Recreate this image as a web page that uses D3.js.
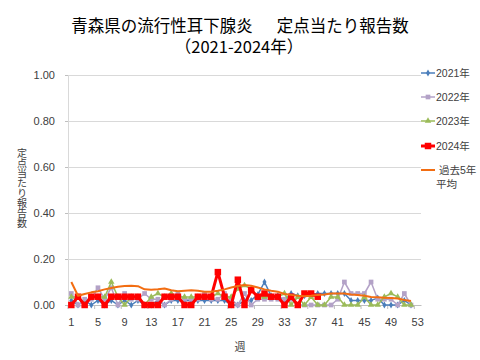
<!DOCTYPE html>
<html><head><meta charset="utf-8">
<script src="https://cdn.jsdelivr.net/npm/d3@7"></script>
<style>
html,body{margin:0;padding:0;background:#fff;}
svg{display:block;}
</style></head>
<body>
<svg id="chart" width="480" height="360"></svg>
<script>
const weeks = [1,2,3,4,5,6,7,8,9,10,11,12,13,14,15,16,17,18,19,20,21,22,23,24,25,26,27,28,29,30,31,32,33,34,35,36,37,38,39,40,41,42,43,44,45,46,47,48,49,50,51,52,53];
const tickWeeks = [1,5,9,13,17,21,25,29,33,37,41,45,49,53];
const yTicks = [0,0.2,0.4,0.6,0.8,1.0];

const s2021 = [0.02,0,0.02,0,0.02,0,0.02,0,0.02,0,0.02,0,0,0.02,0,0.02,0.02,0.02,0.02,0.02,0.02,0.02,0.02,0.02,0,0,0.02,0.02,0.045,0.10,0.04,0.04,0.02,0.05,0.04,0.04,0.045,0.05,0.05,0.05,0.05,0.05,0.02,0.02,0.02,0.02,0.03,0,0,0,0.02,0];
const s2022 = [0.05,0,0.025,0.025,0.075,0.025,0.075,0,0.05,0.025,0.025,0.05,0.025,0.025,0,0.025,0.05,0.025,0.025,0.025,0.05,0.025,0.025,0.05,0.025,0,0.05,0,0.025,0.025,0.025,0.025,0.025,0.025,0,0,0,0,0,0,0.025,0.10,0.05,0.05,0.05,0.10,0.025,0.025,0.025,0,0.05,0];
const s2023 = [0.035,0.035,0,0.035,0.035,0.035,0.10,0.035,0,0.035,0.035,0,0.035,0.05,0.035,0.05,0.035,0.035,0.035,0.035,0.035,0.035,0.05,0.035,0.035,0.07,0.085,0.07,0.035,0.035,0.035,0.035,0.05,0,0.035,0,0.035,0,0,0.035,0.035,0,0,0,0.035,0,0,0.035,0.05,0.035,0,0];
const s2024 = [0,0.036,0,0.036,0.036,0,0.036,0.036,0.036,0.036,0.036,0,0,0,0.036,0.036,0.036,0,0,0.036,0.036,0.036,0.143,0.036,0,0.11,0,0.065,0.036,0.05,0.036,0.036,0,0.036,0,0.05,0.05,0.036];
const sAvg = [0.10,0.04,0.048,0.055,0.06,0.068,0.074,0.079,0.083,0.084,0.082,0.068,0.066,0.068,0.072,0.064,0.060,0.062,0.064,0.062,0.058,0.058,0.062,0.068,0.076,0.083,0.087,0.084,0.076,0.068,0.062,0.058,0.048,0.044,0.040,0.038,0.040,0.044,0.046,0.050,0.050,0.050,0.046,0.043,0.040,0.035,0.034,0.032,0.030,0.028,0.022,0.017];

const seriesNames = ["2021年","2022年","2023年","2024年"];
const avgName = ["過去5年","平均"];

const svg = d3.select("#chart");
const L = 68, R = 421, T = 75, B = 305;
const x = d3.scaleBand().domain(weeks).range([L, R]).padding(0);
const cx = w => x(w) + x.bandwidth()/2;
const y = d3.scaleLinear().domain([0,1]).range([B, T]);

// title
const title = svg.append("text").attr("x", 240).attr("y", 32).attr("text-anchor","middle")
  .style("font-family","'Noto Sans CJK JP'").style("font-size","16.5px").attr("fill","#000");
title.append("tspan").text("青森県の流行性耳下腺炎");
title.append("tspan").attr("dx", 24).text("定点当たり報告数");
svg.append("text").attr("x", 239).attr("y", 53).attr("text-anchor","middle")
  .style("font-family","'Noto Sans CJK JP'").style("font-size","16.5px").attr("fill","#000")
  .text("（2021-2024年）");

// gridlines
svg.append("g").selectAll("line").data(yTicks.filter(d=>d>0)).join("line")
  .attr("x1", L).attr("x2", R).attr("y1", d=>y(d)).attr("y2", d=>y(d))
  .attr("stroke","#d9d9d9").attr("stroke-width",1).attr("shape-rendering","crispEdges");

// y axis
const yAxis = svg.append("g").attr("transform",`translate(${L},0)`)
  .call(d3.axisLeft(y).tickValues(yTicks).tickFormat(d3.format(".2f")).tickSize(3).tickPadding(10));
yAxis.select(".domain").attr("stroke","#d9d9d9");
yAxis.selectAll(".tick line").attr("stroke","#bfbfbf");
yAxis.selectAll("text").style("font-family","'Liberation Sans'").style("font-size","11px").attr("fill","#404040");

// x axis
const xAxis = svg.append("g").attr("transform",`translate(0,${B})`)
  .call(d3.axisBottom(x).tickValues(tickWeeks).tickSize(0).tickPadding(13).tickSizeOuter(0));
xAxis.select(".domain").attr("stroke","#bfbfbf");
xAxis.selectAll("text").style("font-family","'Liberation Sans'").style("font-size","11px").attr("fill","#404040");
svg.append("g").selectAll("line").data(tickWeeks).join("line")
  .attr("x1", d=>x(d)).attr("x2", d=>x(d)).attr("y1", B).attr("y2", B+4)
  .attr("stroke","#bfbfbf");

// axis titles
svg.append("text").attr("x", 240).attr("y", 351).attr("text-anchor","middle")
  .style("font-family","'Noto Sans CJK JP'").style("font-size","11px").attr("fill","#404040").text("週");
svg.append("text").attr("x", 22).attr("y", 188).attr("text-anchor","middle")
  .style("font-family","'Noto Sans CJK JP'").style("font-size","10px").attr("fill","#404040")
  .style("writing-mode","vertical-rl").text("定点当たり報告数");

const line = d3.line().x((d,i)=>cx(weeks[i])).y(d=>y(d));

function drawSeries(data, color, width, marker, msize) {
  const g = svg.append("g");
  g.append("path").datum(data).attr("d", line).attr("fill","none")
    .attr("stroke", color).attr("stroke-width", width).attr("stroke-linejoin","round");
  if (marker) {
    g.selectAll("path.m").data(data).join("path").attr("class","m")
      .attr("transform",(d,i)=>`translate(${cx(weeks[i])},${y(d)})`)
      .attr("d", d3.symbol().type(marker).size(msize)).attr("fill", color);
  }
}
drawSeries(s2021, "#4a7ebb", 1.5, d3.symbolDiamond, 14);
drawSeries(s2022, "#b3a2c7", 1.5, d3.symbolSquare, 22);
drawSeries(s2023, "#9bbb59", 1.5, d3.symbolTriangle, 18);
drawSeries(s2024, "#ff0000", 3, d3.symbolSquare, 42);
drawSeries(sAvg, "#f26d12", 2, null, 0);

// legend
const legendColors = ["#4a7ebb","#b3a2c7","#9bbb59","#ff0000"];
const legendMarkers = [d3.symbolDiamond, d3.symbolSquare, d3.symbolTriangle, d3.symbolSquare];
const legendSizes = [14,22,18,42];
const legendW = [1.5,1.5,1.5,3];
const legendY = [73,97,121,146];
const lg = svg.append("g");
seriesNames.forEach((n,i)=>{
  lg.append("line").attr("x1",421).attr("x2",435).attr("y1",legendY[i]).attr("y2",legendY[i])
    .attr("stroke",legendColors[i]).attr("stroke-width",legendW[i]);
  lg.append("path").attr("transform",`translate(428,${legendY[i]})`)
    .attr("d", d3.symbol().type(legendMarkers[i]).size(legendSizes[i])).attr("fill",legendColors[i]);
  lg.append("text").attr("x",436).attr("y",legendY[i]+4)
    .style("font-family","'Liberation Sans','Noto Sans CJK JP'").style("font-size","10.5px").attr("fill","#404040").text(n);
});
lg.append("line").attr("x1",421).attr("x2",435).attr("y1",170).attr("y2",170)
  .attr("stroke","#f26d12").attr("stroke-width",2);
lg.append("text").attr("x",439).attr("y",174)
  .style("font-family","'Liberation Sans','Noto Sans CJK JP'").style("font-size","10.5px").attr("fill","#404040").text(avgName[0]);
lg.append("text").attr("x",436).attr("y",188)
  .style("font-family","'Liberation Sans','Noto Sans CJK JP'").style("font-size","10.5px").attr("fill","#404040").text(avgName[1]);
</script>
</body></html>
